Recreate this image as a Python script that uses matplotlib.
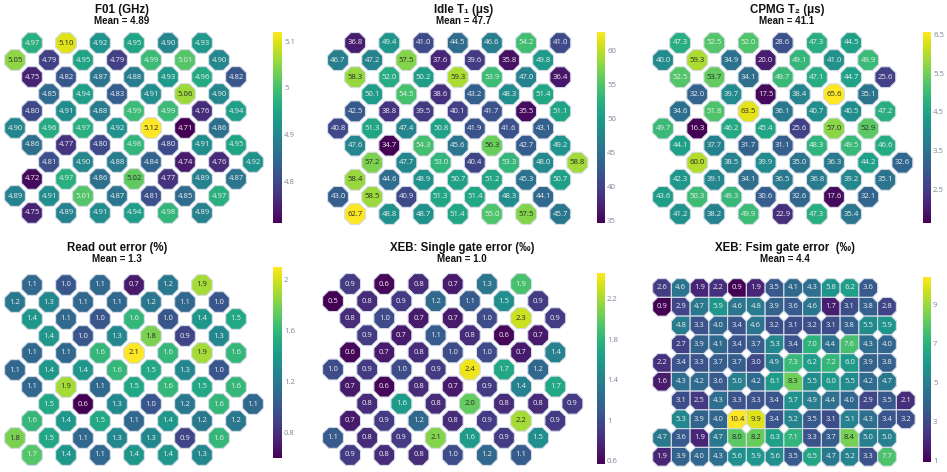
import numpy as np
import matplotlib
matplotlib.use("Agg")
import matplotlib.pyplot as plt
from matplotlib.patches import RegularPolygon, Polygon
from matplotlib.collections import PatchCollection
from matplotlib.colors import Normalize

# ---------------- data ----------------
ROW_START = [1, 0, 1, 2, 1, 0, 1, 2, 1, 0, 1]          # first lattice column of each qubit row
COUPLER_ROW_START = [0, 0, 1, 1, 0, 0, 1, 1, 0, 0]      # first coupler column of each coupler row

f01 = [[4.97, 5.10, 4.92, 4.95, 4.90, 4.93],
       [5.05, 4.79, 4.95, 4.79, 4.99, 5.01, 4.90],
       [4.75, 4.82, 4.87, 4.88, 4.93, 4.96, 4.82],
       [4.85, 4.94, 4.83, 4.91, 5.06, 4.90],
       [4.80, 4.91, 4.88, 4.99, 4.99, 4.76, 4.94],
       [4.90, 4.96, 4.97, 4.92, 5.12, 4.71, 4.86],
       [4.86, 4.77, 4.80, 4.98, 4.80, 4.91, 4.95],
       [4.81, 4.90, 4.88, 4.84, 4.74, 4.76, 4.92],
       [4.72, 4.97, 4.86, 5.02, 4.77, 4.89, 4.87],
       [4.89, 4.91, 5.01, 4.87, 4.81, 4.85, 4.97],
       [4.75, 4.89, 4.91, 4.94, 4.98, 4.89]]

t1 = [[36.8, 49.4, 41.0, 44.5, 46.6, 54.2, 41.0],
      [46.7, 47.2, 57.5, 37.6, 39.6, 35.8, 49.8],
      [58.3, 52.0, 50.2, 59.3, 53.9, 47.0, 36.4],
      [50.1, 54.5, 38.6, 43.2, 48.3, 51.4],
      [42.5, 38.8, 39.5, 40.1, 41.7, 35.5, 51.1],
      [40.8, 51.3, 47.4, 50.8, 41.9, 41.6, 43.1],
      [47.6, 34.7, 54.3, 45.6, 56.3, 42.7, 49.2],
      [57.2, 47.7, 53.0, 40.4, 53.3, 48.0, 58.8],
      [58.4, 44.6, 48.9, 50.7, 51.2, 45.3, 50.7],
      [43.0, 58.5, 40.9, 51.3, 51.4, 48.3, 44.1],
      [62.7, 48.8, 48.7, 51.4, 55.0, 57.5, 45.7]]

t2 = [[47.3, 52.5, 52.0, 28.6, 47.3, 44.5],
      [40.0, 59.3, 34.9, 20.0, 49.1, 41.0, 49.9],
      [52.5, 53.7, 34.1, 49.7, 47.1, 44.7, 25.6],
      [32.0, 39.7, 17.5, 38.4, 65.6, 35.1],
      [34.6, 51.8, 63.5, 36.1, 40.7, 40.5, 47.2],
      [49.7, 16.3, 46.2, 45.4, 25.6, 57.0, 52.9],
      [44.1, 37.7, 31.7, 31.1, 48.3, 49.5, 46.6],
      [60.0, 38.5, 39.9, 35.0, 36.3, 44.2, 32.6],
      [42.3, 39.1, 34.1, 36.5, 36.8, 39.2, 35.1],
      [43.6, 50.3, 49.3, 30.6, 32.6, 17.6, 32.1],
      [41.2, 38.2, 49.9, 22.9, 47.3, 35.4]]

readout = [[1.1, 1.0, 1.1, 0.7, 1.2, 1.9],
           [1.2, 1.3, 1.1, 1.1, 1.2, 1.1, 1.0],
           [1.4, 1.1, 1.0, 1.6, 1.0, 1.4, 1.5],
           [1.4, 1.0, 1.3, 1.8, 0.9, 1.3],
           [1.1, 1.1, 1.6, 2.1, 1.6, 1.9, 1.6],
           [1.1, 1.4, 1.4, 1.6, 1.5, 1.3, 1.0],
           [1.1, 1.9, 1.1, 1.5, 1.6, 1.5, 1.6],
           [1.5, 0.6, 1.3, 1.0, 1.2, 1.6, 1.1],
           [1.6, 1.4, 1.5, 1.1, 1.4, 1.2, 1.2],
           [1.8, 1.5, 1.1, 1.3, 1.3, 0.9, 1.6],
           [1.7, 1.4, 1.1, 1.4, 1.4, 1.3]]

xeb1 = [[0.9, 0.6, 0.8, 0.7, 1.3, 1.9],
        [0.5, 0.8, 0.9, 1.2, 1.1, 1.5, 0.9],
        [0.8, 1.0, 0.7, 0.7, 1.0, 2.3, 0.9],
        [0.9, 0.7, 1.1, 0.8, 0.6, 0.7],
        [0.6, 0.7, 0.8, 1.0, 1.0, 0.7, 1.4],
        [1.0, 0.9, 1.0, 0.9, 2.4, 1.7, 1.2],
        [0.7, 0.6, 0.8, 0.7, 0.9, 1.4, 1.7],
        [0.8, 1.6, 0.8, 2.0, 0.8, 0.8, 0.9],
        [0.7, 0.9, 1.2, 0.8, 0.9, 2.2, 0.9],
        [1.1, 0.8, 0.9, 2.1, 1.6, 0.9, 1.5],
        [0.9, 0.8, 0.8, 1.0, 1.2, 1.1]]

fsim = [[2.6, 4.6, 1.9, 2.2, 0.9, 1.9, 3.5, 4.1, 4.3, 5.8, 6.2, 3.6],
        [0.9, 2.9, 4.7, 5.9, 4.6, 4.8, 3.9, 3.6, 4.6, 1.7, 3.1, 3.8, 2.8],
        [4.8, 3.3, 4.0, 3.4, 4.6, 3.2, 3.1, 3.2, 3.1, 3.8, 5.5, 5.9],
        [2.7, 3.9, 4.1, 3.4, 3.7, 5.3, 3.4, 7.0, 4.4, 7.6, 4.3, 4.0],
        [2.2, 3.4, 3.3, 3.7, 3.7, 3.0, 4.9, 7.3, 6.2, 7.2, 6.0, 3.9, 3.8],
        [1.6, 4.3, 4.2, 3.6, 5.0, 4.2, 6.1, 8.3, 5.5, 6.0, 5.5, 4.2, 4.7],
        [3.1, 2.5, 4.3, 3.3, 3.3, 3.4, 5.7, 4.9, 4.4, 4.0, 2.9, 3.5, 2.1],
        [5.3, 3.9, 4.0, 10.4, 9.9, 3.4, 5.2, 3.5, 3.1, 5.1, 4.3, 3.4, 3.2],
        [4.7, 3.6, 1.9, 4.7, 8.0, 8.2, 6.3, 7.1, 3.3, 3.7, 8.4, 5.0, 5.0],
        [1.9, 3.9, 4.0, 4.3, 5.6, 5.9, 5.6, 3.5, 6.5, 4.7, 5.2, 3.3, 7.7]]

titles = ["F01 (GHz)", "Idle T\u2081 (\u03bcs)", "CPMG T\u2082 (\u03bcs)",
          "Read out error (%)", "XEB: Single gate error (\u2030)", "XEB: Fsim gate error  (\u2030)"]
means = ["Mean = 4.89", "Mean = 47.7", "Mean = 41.1", "Mean = 1.3", "Mean = 1.0", "Mean = 4.4"]

cbar_ticks = [[4.8, 4.9, 5.0, 5.1], [35, 40, 45, 50, 55, 60], [25, 35, 45, 55, 65],
              [0.8, 1.2, 1.6, 2.0], [0.6, 1.0, 1.4, 1.8, 2.2], [1, 3, 5, 7, 9]]
cbar_labels = [["4.8", "4.9", "5", "5.1"], ["35", "40", "45", "50", "55", "60"],
               ["2.5", "3.5", "4.5", "5.5", "6.5"], ["0.8", "1.2", "1.6", "2"],
               ["0.6", "1", "1.4", "1.8", "2.2"], ["1", "3", "5", "7", "9"]]

# ---------------- layout (pixels) ----------------
W, H = 947, 472
fig = plt.figure(figsize=(W / 100, H / 100), dpi=100)

def add_ax(left, top, width, height):
    return fig.add_axes([left / W, 1 - (top + height) / H, width / W, height / H])

TITLE_FONT = ["Liberation Sans", "DejaVu Sans"]
VAL_FONT = ["Open Sans", "DejaVu Sans"]
TICK_COLOR = "#7c8798"
EDGE = "#d6dce6"
LIGHT_TXT = "#ececec"
DARK_TXT = "#2b2b2b"

def style_cbar(pc, cax, ticks, labels):
    cb = fig.colorbar(pc, cax=cax, ticks=ticks)
    cb.outline.set_visible(False)
    cb.set_ticklabels(labels)
    cax.tick_params(length=0, pad=1.5, labelsize=5.6, labelcolor=TICK_COLOR)
    for t in cax.get_yticklabels():
        t.set_family(VAL_FONT)

def text_color(norm, v):
    return DARK_TXT if norm(v) > 0.74 else LIGHT_TXT

def qubit_panel(values, fmt, k0, y0, u, cbar_box, vlim, ticks, labels):
    ax = add_ax(k0 - u, y0 - u, 16 * u, 12 * u)
    ax.set_xlim(-1, 15)
    ax.set_ylim(11, -1)
    ax.axis("off")
    flat = [v for row in values for v in row]
    norm = Normalize(vlim[0] if vlim else min(flat), vlim[1] if vlim else max(flat))
    patches, vals = [], []
    R = 0.61 / np.cos(np.pi / 8)
    for r, row in enumerate(values):
        for i, v in enumerate(row):
            k = ROW_START[r] + 2 * i
            patches.append(RegularPolygon((k, r), numVertices=8, radius=R, orientation=np.pi / 8))
            vals.append(v)
            ax.text(k, r, fmt % v, ha="center", va="center", fontsize=5.6,
                    family=VAL_FONT, color=text_color(norm, v))
    pc = PatchCollection(patches, cmap="viridis", norm=norm, edgecolor=EDGE, linewidth=0.8)
    pc.set_array(np.array(vals))
    ax.add_collection(pc)
    pc.set_zorder(1)
    cax = add_ax(*cbar_box)
    style_cbar(pc, cax, ticks, labels)

def coupler_panel(values, c0, r0, u, cbar_box, vlim, ticks, labels):
    ax = add_ax(c0 - u, r0 - u, 15 * u, 11 * u)
    ax.set_xlim(-1, 14)
    ax.set_ylim(10, -1)
    ax.axis("off")
    flat = [v for row in values for v in row]
    norm = Normalize(vlim[0] if vlim else min(flat), vlim[1] if vlim else max(flat))
    cells = set()
    for r, row in enumerate(values):
        for i in range(len(row)):
            cells.add((COUPLER_ROW_START[r] + i, r))

    def cut(vx, vy):
        # vertex in qubit-lattice coordinates; cut if a qubit sits there or at the outer edge
        around = [(vx - 1, vy - 1), (vx, vy - 1), (vx - 1, vy), (vx, vy)]
        return (vx + vy) % 2 == 1 or not all(p in cells for p in around)

    s, a = 0.5, 0.27
    patches, vals = [], []
    for r, row in enumerate(values):
        for i, v in enumerate(row):
            c = COUPLER_ROW_START[r] + i
            pts = []
            # top-left vertex (c, r)
            if cut(c, r):
                pts += [(c - s, r - s + a), (c - s + a, r - s)]
            else:
                pts += [(c - s, r - s)]
            # top-right vertex (c+1, r)
            if cut(c + 1, r):
                pts += [(c + s - a, r - s), (c + s, r - s + a)]
            else:
                pts += [(c + s, r - s)]
            # bottom-right vertex (c+1, r+1)
            if cut(c + 1, r + 1):
                pts += [(c + s, r + s - a), (c + s - a, r + s)]
            else:
                pts += [(c + s, r + s)]
            # bottom-left vertex (c, r+1)
            if cut(c, r + 1):
                pts += [(c - s + a, r + s), (c - s, r + s - a)]
            else:
                pts += [(c - s, r + s)]
            patches.append(Polygon(pts, closed=True))
            vals.append(v)
            ax.text(c, r, "%.1f" % v, ha="center", va="center", fontsize=5.6,
                    family=VAL_FONT, color=text_color(norm, v))
    pc = PatchCollection(patches, cmap="viridis", norm=norm, edgecolor=EDGE, linewidth=0.8)
    pc.set_array(np.array(vals))
    pc.set_zorder(1)
    ax.add_collection(pc)
    cax = add_ax(*cbar_box)
    style_cbar(pc, cax, ticks, labels)

qubit_panel(f01, "%.2f", 15, 43, 17.0, (273, 32, 9, 191), None, cbar_ticks[0], cbar_labels[0])
qubit_panel(t1, "%.1f", 338, 43, 17.1, (597, 32, 8, 191), None, cbar_ticks[1], cbar_labels[1])
qubit_panel(t2, "%.1f", 663, 43, 17.1, (923, 32, 8, 191), None, cbar_ticks[2], cbar_labels[2])
qubit_panel(readout, "%.1f", 15, 285, 17.0, (273, 267, 9, 191), None, cbar_ticks[3], cbar_labels[3])
qubit_panel(xeb1, "%.1f", 333, 284, 17.1, (597, 273, 8, 191), (0.57, 2.45), cbar_ticks[4], cbar_labels[4])
coupler_panel(fsim, 662, 288, 18.75, (923, 277, 8, 185), None, cbar_ticks[5], cbar_labels[5])

title_pos = [(122, 10, 21), (464, 10, 21), (787, 10, 21), (117, 248, 259), (462, 248, 259), (785, 248, 259)]
for (x, yt, ym), t, m in zip(title_pos, titles, means):
    fig.text(x / W, 1 - yt / H, t, ha="center", va="center", fontsize=8.3,
             fontweight="bold", family=TITLE_FONT, color="#111111")
    fig.text(x / W, 1 - ym / H, m, ha="center", va="center", fontsize=7.0,
             fontweight="bold", family=TITLE_FONT, color="#111111")

fig.savefig("out.png", dpi=100, facecolor="white")
